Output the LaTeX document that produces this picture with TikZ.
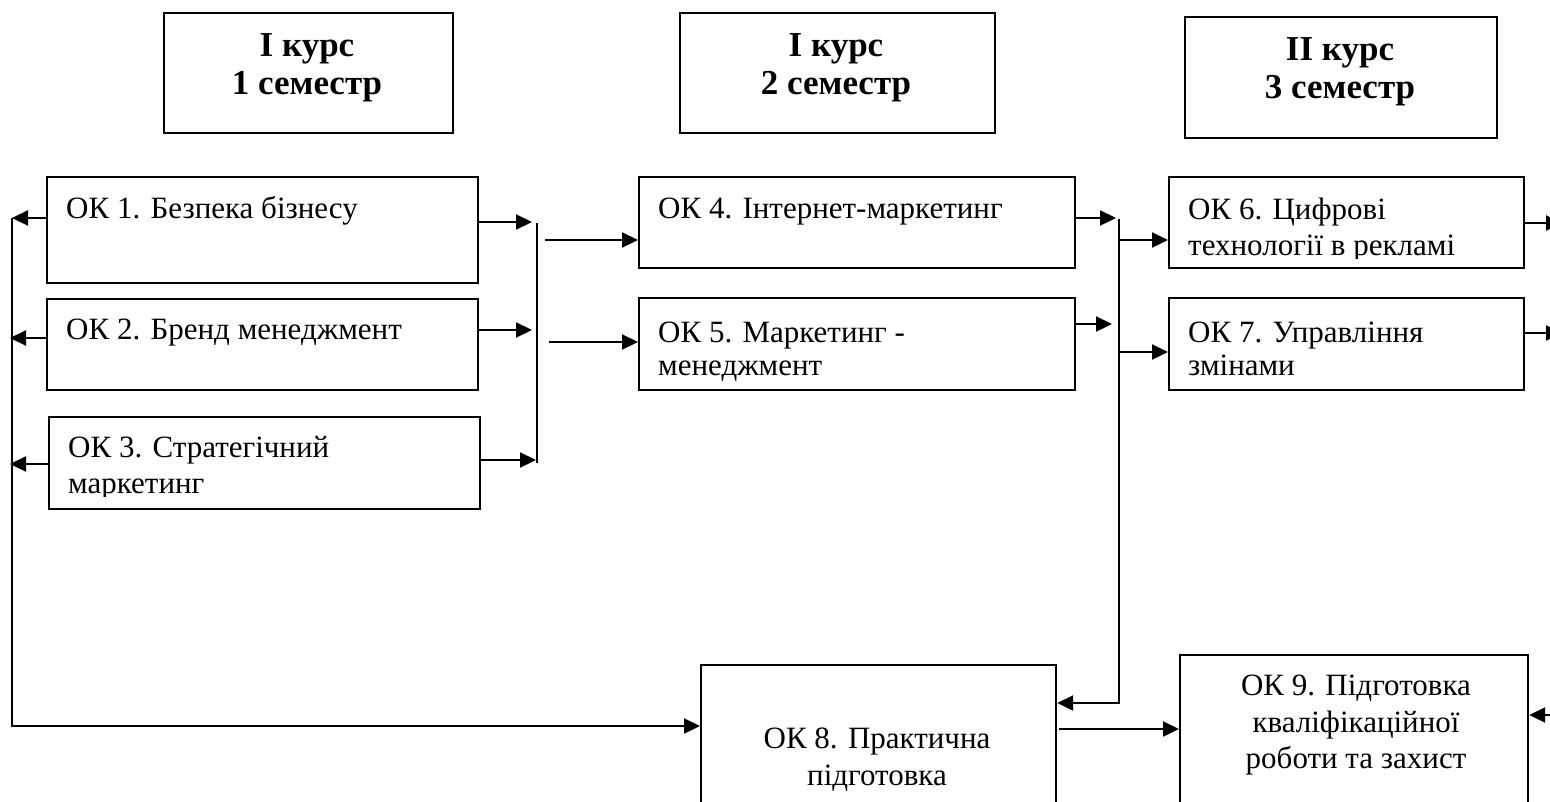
\documentclass[tikz,border=0pt]{standalone}
\usepackage{fontspec}
\setmainfont{Liberation Serif}
\usetikzlibrary{arrows.meta}
\begin{document}
\begin{tikzpicture}[x=1pt,y=-1pt,
  box/.style={draw, line width=2.2pt, inner sep=0pt, anchor=north west},
  ln/.style={line width=2.2pt},
  arr/.style={line width=2.2pt, -{Triangle[length=16pt,width=15pt]}},
  txt/.style={font=\fontsize{31}{36}\selectfont, inner sep=0pt, anchor=base west},
  ctxt/.style={font=\fontsize{31}{36}\selectfont, inner sep=0pt, anchor=base},
  htxt/.style={font=\fontsize{35}{37}\selectfont\bfseries, inner sep=0pt, anchor=base}]
\useasboundingbox (0,0) rectangle (1550,801);
\clip (0,0) rectangle (1550,801);

% header boxes
\node[box, minimum width=289pt, minimum height=120pt] (h1) at (163,12) {};
\node[box, minimum width=315pt, minimum height=120pt] (h2) at (679,12) {};
\node[box, minimum width=312pt, minimum height=121pt] (h3) at (1184,16) {};
\node[htxt] (h1a) at (307,56) {I курс};
\node[htxt] (h1b) at (307,94) {1 семестр};
\node[htxt] (h2a) at (836,56) {I курс};
\node[htxt] (h2b) at (836,94) {2 семестр};
\node[htxt] (h3a) at (1340,60) {II курс};
\node[htxt] (h3b) at (1340,98) {3 семестр};

% course boxes
\node[box, minimum width=431pt, minimum height=106pt] (ok1) at (46,176) {};
\node[box, minimum width=431pt, minimum height=91pt] (ok2) at (46,298) {};
\node[box, minimum width=431pt, minimum height=92pt] (ok3) at (48,416) {};
\node[box, minimum width=436pt, minimum height=91pt] (ok4) at (638,176) {};
\node[box, minimum width=436pt, minimum height=92pt] (ok5) at (638,297) {};
\node[box, minimum width=355pt, minimum height=91pt] (ok6) at (1168,176) {};
\node[box, minimum width=355pt, minimum height=92pt] (ok7) at (1168,297) {};
\node[box, minimum width=355pt, minimum height=170pt] (ok8) at (700,664) {};
\node[box, minimum width=348pt, minimum height=180pt] (ok9) at (1179,654) {};

% texts
\node[txt] (t1) at (66,218) {ОК 1. Безпека бізнесу};
\node[txt] (t2) at (66,339) {ОК 2. Бренд менеджмент};
\begin{scope}
  \clip (ok3.north west) rectangle ([yshift=14pt]ok3.south east);
  \node[txt] (t3a) at (68,457) {ОК 3. Стратегічний};
  \node[txt] (t3b) at (68,493) {маркетинг};
\end{scope}
\node[txt] (t4) at (658,218) {ОК 4. Інтернет-маркетинг};
\node[txt] (t5a) at (658,342) {ОК 5. Маркетинг -};
\node[txt] (t5b) at (658,375) {менеджмент};
\begin{scope}
  \clip (ok6.north west) rectangle ([yshift=11pt]ok6.south east);
  \node[txt] (t6a) at (1188,219) {ОК 6. Цифрові};
  \node[txt] (t6b) at (1188,255) {технології в рекламі};
\end{scope}
\node[txt] (t7a) at (1188,342) {ОК 7. Управління};
\node[txt] (t7b) at (1188,375) {змінами};
\node[ctxt] (t8a) at (877,748) {ОК 8. Практична};
\node[ctxt] (t8b) at (877,785) {підготовка};
\node[ctxt] (t9a) at (1356,695) {ОК 9. Підготовка};
\node[ctxt] (t9b) at (1356,732) {кваліфікаційної};
\node[ctxt] (t9c) at (1356,768) {роботи та захист};

% left bus
\coordinate (lb1) at (12,218);
\coordinate (lb2) at (10,338);
\coordinate (lb3) at (10,464);
\coordinate (lbb) at (12,726);
\draw[arr] (lb1 -| ok1.west) -- (lb1);
\draw[arr] (lb2 -| ok2.west) -- (lb2);
\draw[arr] (lb3 -| ok3.west) -- (lb3);
\draw[arr] (lb1) -- (lbb) -- (lbb -| ok8.west);

% bus between semester 1 and 2
\coordinate (r1) at (532,222);
\coordinate (r2) at (532,330);
\coordinate (r3) at (536,460);
\coordinate (b1t) at (537,223);
\coordinate (b1b) at (537,463);
\draw[arr] (r1 -| ok1.east) -- (r1);
\draw[arr] (r2 -| ok2.east) -- (r2);
\draw[arr] (r3 -| ok3.east) -- (r3);
\draw[ln] (b1t) -- (b1b);
\coordinate (s4) at (545,240);
\coordinate (s5) at (549,342);
\draw[arr] (s4) -- (s4 -| ok4.west);
\draw[arr] (s5) -- (s5 -| ok5.west);

% bus between semester 2 and 3
\coordinate (r4) at (1116,218);
\coordinate (r5) at (1112,324);
\draw[arr] (r4 -| ok4.east) -- (r4);
\draw[arr] (r5 -| ok5.east) -- (r5);
\coordinate (b2t) at (1119,219);
\coordinate (b2b) at (1119,703);
\draw[arr] (b2t) -- (b2b) -- (b2b -| ok8.east);
\coordinate (s6) at (1119,240);
\coordinate (s7) at (1119,352);
\draw[arr] (s6) -- (s6 -| ok6.west);
\draw[arr] (s7) -- (s7 -| ok7.west);

% right side
\coordinate (o6) at (1562,223);
\coordinate (o7) at (1562,333);
\coordinate (i9) at (1566,715);
\draw[arr] (o6 -| ok6.east) -- (o6);
\draw[arr] (o7 -| ok7.east) -- (o7);
\draw[arr] (i9) -- (i9 -| ok9.east);

% OK8 -> OK9
\coordinate (m8) at (1059,729);
\draw[arr] (m8) -- (m8 -| ok9.west);
\end{tikzpicture}
\end{document}
